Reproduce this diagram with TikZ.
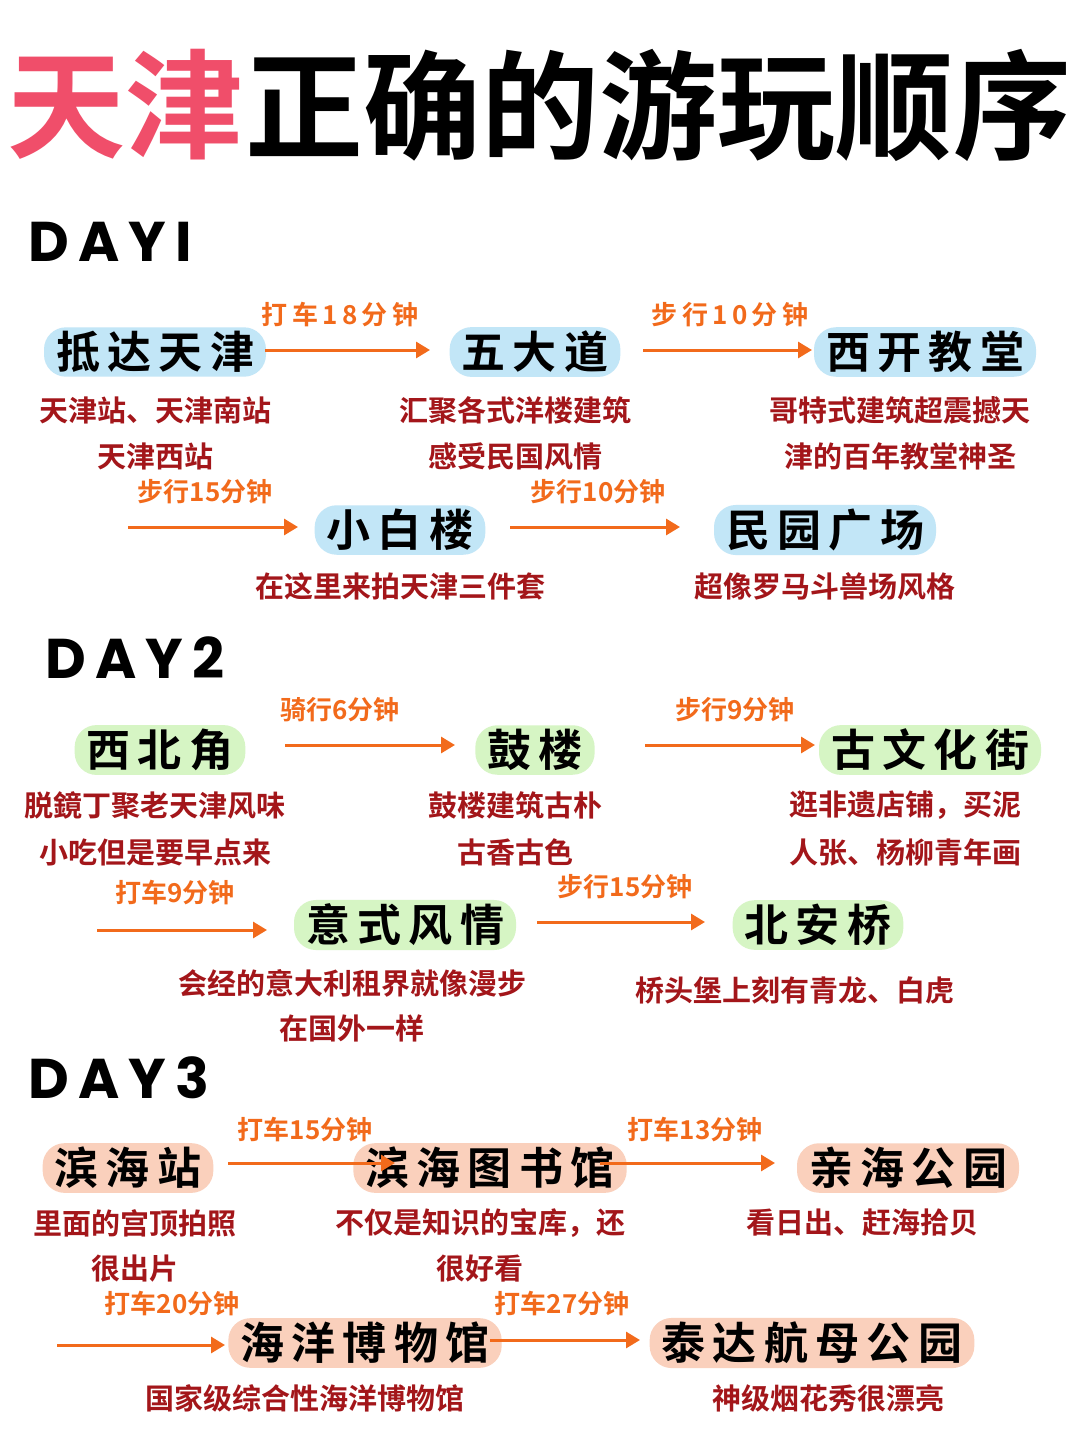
\documentclass[tikz,border=0pt]{standalone}
\usepackage{fontspec}
\usetikzlibrary{arrows.meta}
\setmainfont{Noto Sans CJK SC}[BoldFont={* Bold}]
\newfontfamily\latf{Poppins}[BoldFont={* Bold}]
\definecolor{tred}{HTML}{F04E6A}
\definecolor{dred}{HTML}{A3161A}
\definecolor{org}{HTML}{F26A1B}
\definecolor{bblue}{HTML}{C2E6F7}
\definecolor{bgreen}{HTML}{D6F5C4}
\definecolor{bpeach}{HTML}{FAD0BC}
\begin{document}
\begin{tikzpicture}[x=1pt,y=-1pt,
  place/.style={font=\fontsize{44}{44}\selectfont\bfseries, rounded corners=22pt, inner xsep=12pt, inner ysep=4pt, text=black},
  desc/.style={font=\fontsize{29}{29}\selectfont\bfseries, text=dred, inner sep=0pt},
  lbl/.style={font=\fontsize{26}{26}\selectfont\bfseries, text=org, inner sep=0pt},
  arr/.style={draw=org, line width=3pt, -{Triangle[length=14pt,width=16pt]}},
  dayl/.style={font=\latf\fontsize{56}{56}\selectfont\bfseries, anchor=west, inner sep=0pt}]
\fill[white] (0,0) rectangle (1080,1440);
\useasboundingbox (0,0) rectangle (1080,1440);
% title
\node[font=\fontsize{118}{118}\selectfont\bfseries, text=tred, inner sep=0pt] (t1) at (125,105) {天津};
\node[font=\fontsize{118}{118}\selectfont\bfseries, text=black, inner sep=0pt, anchor=west] (t2) at (245,105) {正确的游玩顺序};
% DAY1
\node[dayl] (d1) at (28,242) {D\,A\,Y\,I};
\node[place, fill=bblue] (a1) at (155,352) {抵\,达\,天\,津};
\node[place, fill=bblue] (a2) at (535,352) {五\,大\,道};
\node[place, fill=bblue] (a3) at (925,352) {西\,开\,教\,堂};
\coordinate (a1e) at (265,350); \coordinate (a2w) at (430,350);
\coordinate (a2e) at (643,350); \coordinate (a3w) at (812,350);
\draw[arr] (a1e) -- (a2w); \draw[arr] (a2e) -- (a3w);
\node[lbl] (l1) at (340,315) {打\,车\,1\,8\,分\,钟};
\node[lbl] (l2) at (730,315) {步\,行\,1\,0\,分\,钟};
\node[desc] (x1) at (155,410) {天津站、天津南站};
\node[desc] (x2) at (155,456) {天津西站};
\node[desc] (x3) at (515,410) {汇聚各式洋楼建筑};
\node[desc] (x4) at (515,456) {感受民国风情};
\node[desc] (x5) at (900,410) {哥特式建筑超震撼天};
\node[desc] (x6) at (900,456) {津的百年教堂神圣};
\node[place, fill=bblue] (a4) at (400,530) {小\,白\,楼};
\node[place, fill=bblue] (a5) at (825,530) {民\,园\,广\,场};
\coordinate (s1) at (128,527); \coordinate (a4w) at (298,527);
\coordinate (a4e) at (510,527); \coordinate (a5w) at (680,527);
\draw[arr] (s1) -- (a4w); \draw[arr] (a4e) -- (a5w);
\node[lbl] (l3) at (205,492) {步行15分钟};
\node[lbl] (l4) at (598,492) {步行10分钟};
\node[desc] (x7) at (400,586) {在这里来拍天津三件套};
\node[desc] (x8) at (825,586) {超像罗马斗兽场风格};
% DAY2
\node[dayl] (d2) at (45,658) {D\,A\,Y\,2};
\node[place, fill=bgreen] (b1) at (160,750) {西\,北\,角};
\node[place, fill=bgreen] (b2) at (535,750) {鼓\,楼};
\node[place, fill=bgreen] (b3) at (930,750) {古\,文\,化\,街};
\coordinate (b1e) at (285,745); \coordinate (b2w) at (455,745);
\coordinate (b2e) at (645,745); \coordinate (b3w) at (815,745);
\draw[arr] (b1e) -- (b2w); \draw[arr] (b2e) -- (b3w);
\node[lbl] (l5) at (340,710) {骑行6分钟};
\node[lbl] (l6) at (735,710) {步行9分钟};
\node[desc] (y1) at (155,805) {脱鏡丁聚老天津风味};
\node[desc] (y2) at (155,852) {小吃但是要早点来};
\node[desc] (y3) at (515,805) {鼓楼建筑古朴};
\node[desc] (y4) at (515,852) {古香古色};
\node[desc] (y5) at (905,805) {逛非遗店铺，买泥};
\node[desc] (y6) at (905,852) {人张、杨柳青年画};
\node[place, fill=bgreen] (b4) at (405,925) {意\,式\,风\,情};
\node[place, fill=bgreen] (b5) at (818,925) {北\,安\,桥};
\coordinate (s2) at (97,930); \coordinate (b4w) at (267,930);
\coordinate (b4e) at (537,922); \coordinate (b5w) at (705,922);
\draw[arr] (s2) -- (b4w); \draw[arr] (b4e) -- (b5w);
\node[lbl] (l7) at (175,893) {打车9分钟};
\node[lbl] (l8) at (625,887) {步行15分钟};
\node[desc] (y7) at (352,983) {会经的意大利租界就像漫步};
\node[desc] (y8) at (352,1028) {在国外一样};
\node[desc] (y9) at (795,990) {桥头堡上刻有青龙、白虎};
% DAY3
\node[dayl] (d3) at (28,1078) {D\,A\,Y\,3};
\node[place, fill=bpeach] (c1) at (128,1168) {滨\,海\,站};
\node[place, fill=bpeach] (c2) at (490,1168) {滨\,海\,图\,书\,馆};
\node[place, fill=bpeach] (c3) at (908,1168) {亲\,海\,公\,园};
\coordinate (c1e) at (228,1163); \coordinate (c2w) at (395,1163);
\coordinate (c2e) at (600,1163); \coordinate (c3w) at (775,1163);
\draw[arr] (c1e) -- (c2w); \draw[arr] (c2e) -- (c3w);
\node[lbl] (l9) at (305,1130) {打车15分钟};
\node[lbl] (l10) at (695,1130) {打车13分钟};
\node[desc] (z1) at (135,1223) {里面的宫顶拍照};
\node[desc] (z2) at (135,1269) {很出片};
\node[desc] (z3) at (480,1223) {不仅是知识的宝库，还};
\node[desc] (z4) at (480,1269) {很好看};
\node[desc] (z5) at (862,1223) {看日出、赶海拾贝};
\node[place, fill=bpeach] (c4) at (365,1343) {海\,洋\,博\,物\,馆};
\node[place, fill=bpeach] (c5) at (812,1343) {泰\,达\,航\,母\,公\,园};
\coordinate (s3) at (57,1345); \coordinate (c4w) at (225,1345);
\coordinate (c4e) at (490,1340); \coordinate (c5w) at (640,1340);
\draw[arr] (s3) -- (c4w); \draw[arr] (c4e) -- (c5w);
\node[lbl] (l11) at (172,1304) {打车20分钟};
\node[lbl] (l12) at (562,1304) {打车27分钟};
\node[desc] (z6) at (305,1398) {国家级综合性海洋博物馆};
\node[desc] (z7) at (828,1398) {神级烟花秀很漂亮};
\end{tikzpicture}
\end{document}
